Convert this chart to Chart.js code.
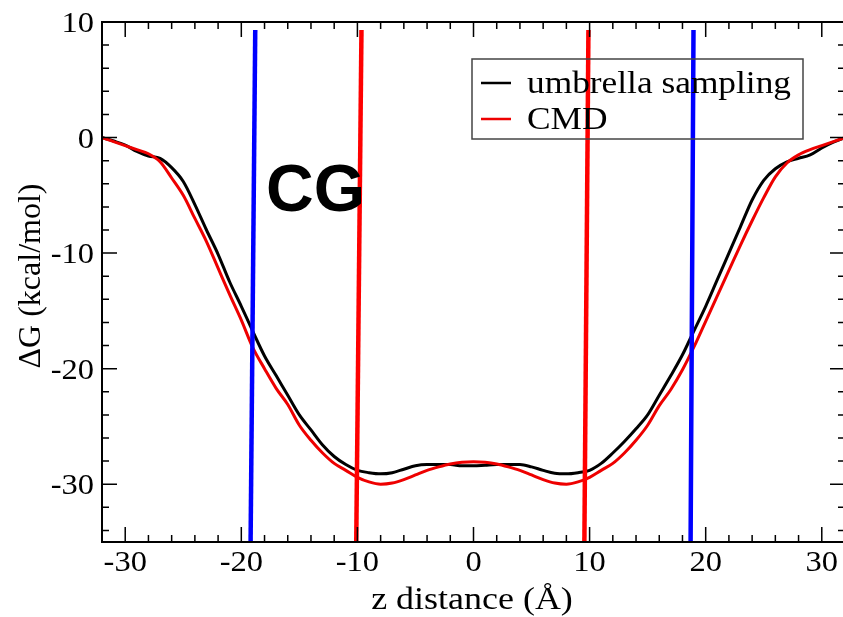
<!DOCTYPE html>
<html>
<head>
<meta charset="utf-8">
<script src="https://cdn.jsdelivr.net/npm/chart.js@4.4.1/dist/chart.umd.min.js"></script>
<style>
  html, body { margin: 0; padding: 0; background: #fff; overflow: hidden; }
  #wrap { width: 848px; height: 617px; }
</style>
</head>
<body>
<div id="wrap"><canvas id="dg" width="848" height="617"></canvas></div>
<script>
// z distance (A), one point per Angstrom
var zValues = [-32, -31, -30, -29, -28, -27, -26, -25, -24, -23, -22, -21, -20, -19, -18, -17,
    -16, -15, -14, -13, -12, -11, -10, -9, -8, -7, -6, -5, -4, -3, -2, -1, 0,
    1, 2, 3, 4, 5, 6, 7, 8, 9, 10, 11, 12, 13, 14, 15, 16,
    17, 18, 19, 20, 21, 22, 23, 24, 25, 26, 27, 28, 29, 30, 31, 32];

// dG (kcal/mol)
var umbrellaG = [0, -0.3, -0.65, -1.2, -1.6, -1.8, -2.6, -3.8, -5.8, -8.0, -10.1, -12.5, -14.6, -16.8, -18.9, -20.6,
    -22.3, -24.0, -25.3, -26.6, -27.6, -28.3, -28.8, -29.0, -29.1, -29.0, -28.7, -28.4, -28.3, -28.3, -28.3, -28.4, -28.4,
    -28.35, -28.3, -28.3, -28.3, -28.5, -28.8, -29.05, -29.1, -29.0, -28.8, -28.2, -27.3, -26.3, -25.2, -24.0, -22.3,
    -20.6, -18.8, -16.7, -14.6, -12.3, -10.0, -7.7, -5.4, -3.7, -2.7, -2.1, -1.8, -1.5, -0.9, -0.4, 0];

var cmdG = [0, -0.35, -0.7, -1.05, -1.4, -2.1, -3.5, -5.0, -7.0, -9.0, -11.3, -13.6, -15.8, -18.2, -20.0, -21.7,
    -23.1, -24.9, -26.2, -27.3, -28.2, -28.8, -29.4, -29.8, -30.0, -29.9, -29.6, -29.2, -28.8, -28.5, -28.25, -28.1, -28.05,
    -28.1, -28.25, -28.5, -28.8, -29.2, -29.6, -29.9, -30.0, -29.8, -29.4, -28.8, -28.2, -27.3, -26.2, -24.9, -23.2,
    -21.8, -20.1, -18.1, -15.9, -13.7, -11.5, -9.3, -7.2, -5.2, -3.4, -2.2, -1.5, -1.05, -0.7, -0.35, 0];

// the four marker lines: [z at bottom, z at top]
var blueLeft = [-19.2, -18.8];
var redLeft = [-10.1, -9.65];
var redRight = [9.55, 9.9];
var blueRight = [18.7, 18.95];
var markerTop = 9.3;

var xTickLabels = [-30, -20, -10, 0, 10, 20, 30];
var yTickLabels = [10, 0, -10, -20, -30];

var SERIF = '"Liberation Serif", "Times New Roman", Times, serif';

function pts(xs, ys) {
    return xs.map(function (z, i) { return { x: z, y: ys[i] }; });
}
function marker(m) {
    return [{ x: m[0], y: -35 }, { x: m[1], y: markerTop }];
}

function stretchText(ctx, s, x, y, align, sx) {
    ctx.save();
    ctx.translate(x, y);
    ctx.scale(sx, 1);
    ctx.textAlign = align;
    ctx.fillText(s, 0, 0);
    ctx.restore();
}

var gracePlugin = {
    id: 'grace',
    afterDraw: function (chart) {
        var ctx = chart.ctx, a = chart.chartArea;
        var x = chart.scales.x, y = chart.scales.y;
        ctx.save();
        ctx.strokeStyle = '#000';
        ctx.fillStyle = '#000';

        // ticks inward on all sides
        ctx.lineWidth = 1.5;
        ctx.beginPath();
        for (var v = -30; v <= 30; v += 2) {
            var px = x.getPixelForValue(v);
            var len = v % 10 === 0 ? 15 : 7;
            ctx.moveTo(px, a.bottom); ctx.lineTo(px, a.bottom - len);
            ctx.moveTo(px, a.top); ctx.lineTo(px, a.top + len);
        }
        for (var w = -34; w <= 8; w += 2) {
            var py = y.getPixelForValue(w);
            var l2 = w % 10 === 0 ? 15 : 7;
            ctx.moveTo(a.left, py); ctx.lineTo(a.left + l2, py);
            ctx.moveTo(a.right, py); ctx.lineTo(a.right - l2, py);
        }
        ctx.stroke();

        // frame
        ctx.lineWidth = 2;
        ctx.strokeRect(a.left, a.top, a.right - a.left, a.bottom - a.top);

        // tick labels
        ctx.font = '29px ' + SERIF;
        ctx.textBaseline = 'alphabetic';
        xTickLabels.forEach(function (t) {
            stretchText(ctx, String(t), x.getPixelForValue(t), a.bottom + 29, 'center', 1.12);
        });
        yTickLabels.forEach(function (t) {
            stretchText(ctx, String(t), a.left - 8, y.getPixelForValue(t) + 10, 'right', 1.12);
        });

        // axis titles
        ctx.font = '31px ' + SERIF;
        stretchText(ctx, 'z distance (Å)', 472, 609, 'center', 1.16);
        ctx.save();
        ctx.translate(40, 276);
        ctx.rotate(-Math.PI / 2);
        ctx.font = '32px ' + SERIF;
        ctx.textAlign = 'center';
        ctx.fillText('ΔG (kcal/mol)', 0, 0);
        ctx.restore();

        // legend box
        ctx.lineWidth = 1.5;
        ctx.strokeStyle = '#444';
        ctx.strokeRect(472, 59, 331, 80);
        var ds = chart.data.datasets;
        [0, 1].forEach(function (i, k) {
            var ly = 83 + k * 36;
            ctx.strokeStyle = ds[i].borderColor;
            ctx.lineWidth = 2.5;
            ctx.beginPath();
            ctx.moveTo(481, ly); ctx.lineTo(511, ly);
            ctx.stroke();
            ctx.fillStyle = '#000';
            ctx.font = '31px ' + SERIF;
            stretchText(ctx, ds[i].label, 527, ly + 10, 'left', 1.14);
        });

        // CG annotation
        ctx.fillStyle = '#000';
        ctx.font = 'bold 66px "Liberation Sans", Arial, sans-serif';
        ctx.textAlign = 'left';
        ctx.fillText('CG', 266, 211);
        ctx.restore();
    }
};

var ctx = document.getElementById('dg').getContext('2d');
var chart = new Chart(ctx, {
    type: 'line',
    data: {
        datasets: [{
            label: 'umbrella sampling',
            data: pts(zValues, umbrellaG),
            borderColor: '#000000',
            borderWidth: 3,
            order: 2
        }, {
            label: 'CMD',
            data: pts(zValues, cmdG),
            borderColor: '#ee0000',
            borderWidth: 3,
            order: 1
        }, {
            label: '',
            data: marker(blueLeft),
            borderColor: '#0000ff',
            borderWidth: 4.5,
            order: 0
        }, {
            label: '',
            data: marker(redLeft),
            borderColor: '#ff0000',
            borderWidth: 4.5,
            order: 0
        }, {
            label: '',
            data: marker(redRight),
            borderColor: '#ff0000',
            borderWidth: 4.5,
            order: 0
        }, {
            label: '',
            data: marker(blueRight),
            borderColor: '#0000ff',
            borderWidth: 4.5,
            order: 0
        }]
    },
    options: {
        responsive: false,
        animation: false,
        layout: { padding: { left: 102, right: 3, top: 22, bottom: 75 } },
        elements: {
            point: { radius: 0 },
            line: { cubicInterpolationMode: 'monotone', fill: false }
        },
        plugins: {
            legend: { display: false },
            tooltip: { enabled: false }
        },
        scales: {
            x: {
                type: 'linear', min: -32, max: 32,
                ticks: { display: false },
                grid: { display: false },
                border: { display: false },
                afterFit: function (s) { s.height = 0; }
            },
            y: {
                min: -35, max: 10,
                ticks: { display: false },
                grid: { display: false },
                border: { display: false },
                afterFit: function (s) { s.width = 0; }
            }
        }
    },
    plugins: [gracePlugin]
});
</script>
</body>
</html>
